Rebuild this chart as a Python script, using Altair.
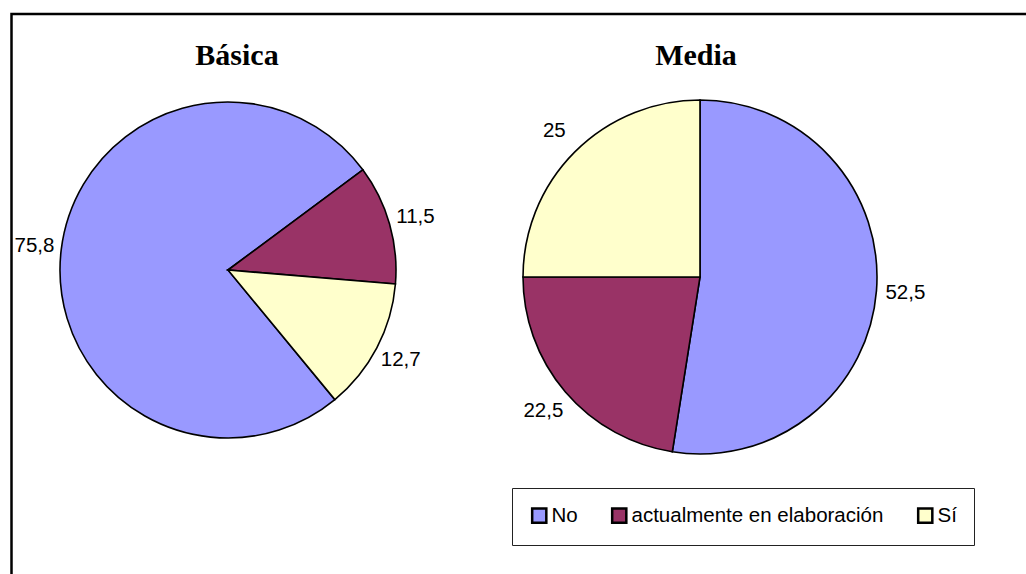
import math
import altair as alt
import pandas as pd

# Survey shares by school level (percent)
categories = ["No", "actualmente en elaboración", "Sí"]
colors = ["#9999FF", "#993366", "#FFFFCC"]
basica = [75.8, 11.5, 12.7]
media = [52.5, 22.5, 25]
levels = ["Básica", "Media"]

rows = []
for level, values in zip(levels, [basica, media]):
    for i, (cat, v) in enumerate(zip(categories, values)):
        rows.append({
            "nivel": level,
            "categoria": cat,
            "valor": v,
            "orden": i,
            "etiqueta": f"{v:g}".replace(".", ","),
        })
df = pd.DataFrame(rows)

W, H = 1026, 574
# pie geometry: center x, center y, radius, label radius, start angle (deg)
pies = {
    "Básica": dict(cx=228, cy=270, r=168, lr=195, start=140.5, tx=237),
    "Media": dict(cx=700, cy=277, r=177, lr=206, start=0, tx=696),
}

color_scale = alt.Scale(domain=categories, range=colors)

layers = []

frame = alt.Chart(alt.Data(values=[{"k": 1}])).mark_rect(
    filled=False, stroke="black", strokeWidth=2.5
).encode(
    x=alt.value(11.5), x2=alt.value(W + 20), y=alt.value(14), y2=alt.value(H + 20)
)
layers.append(frame)

for level in levels:
    p = pies[level]
    a0 = math.radians(p["start"])
    theta = alt.Theta(
        "valor:Q", stack=True, scale=alt.Scale(range=[a0, a0 + 2 * math.pi])
    )
    base = alt.Chart(df).transform_filter(alt.datum.nivel == level)
    arc = base.mark_arc(
        outerRadius=p["r"], stroke="black", strokeWidth=1.6
    ).encode(
        theta=theta,
        color=alt.Color(
            "categoria:N", scale=color_scale, sort=categories,
            legend=alt.Legend(title=None),
        ),
        order=alt.Order("orden:Q"),
        x=alt.value(p["cx"]),
        y=alt.value(p["cy"]),
    )
    txt = base.mark_text(
        radius=p["lr"], font="Arial, Liberation Sans", fontSize=20.5,
        color="black", align="center", baseline="middle",
    ).encode(
        theta=theta,
        text="etiqueta:N",
        order=alt.Order("orden:Q"),
        x=alt.value(p["cx"]),
        y=alt.value(p["cy"]),
    )
    title = alt.Chart(alt.Data(values=[{"t": level}])).mark_text(
        font="Times New Roman, Liberation Serif", fontSize=30, fontWeight="bold",
        color="black", align="center", baseline="alphabetic",
    ).encode(
        text="t:N", x=alt.value(p["tx"]), y=alt.value(65)
    )
    layers += [arc, txt, title]

chart = alt.layer(*layers).resolve_scale(theta="independent").properties(
    width=W, height=H, autosize=alt.AutoSizeParams(type="none"), padding=0,
    background="white",
).configure_view(stroke=None).configure_legend(
    orient="none", legendX=512, legendY=488, direction="horizontal",
    strokeColor="#222", fillColor="white", padding=17, cornerRadius=0,
    labelFont="Arial, Liberation Sans", labelFontSize=20.5, labelColor="black",
    labelOffset=2, labelLimit=500, columnPadding=29,
    symbolType="square", symbolSize=200, symbolStrokeColor="black",
    symbolStrokeWidth=2.5, symbolOpacity=1,
)

chart.save("out.html", embed_options={"renderer": "svg", "actions": False})
